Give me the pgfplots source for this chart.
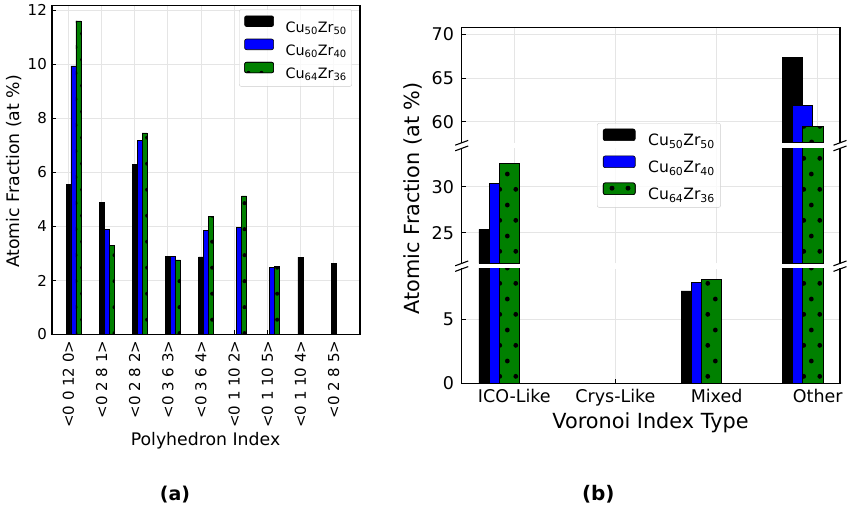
\documentclass[border=0pt]{standalone}
\usepackage{fontspec}
\setmainfont{DejaVu Sans}
\usepackage{pgfplots}
\pgfplotsset{compat=1.18}
\usetikzlibrary{patterns.meta}

\pgfdeclarepattern{
  name=dotsA, type=uncolored,
  bottom left={\pgfpoint{0pt}{0pt}},
  top right={\pgfpoint{13.3pt}{26pt}},
  tile size={\pgfpoint{13.3pt}{26pt}},
  code={
    \pgfpathcircle{\pgfpoint{3.3pt}{6.5pt}}{2.1pt}
    \pgfpathcircle{\pgfpoint{9.95pt}{19.5pt}}{2.1pt}
    \pgfusepath{fill}
  }
}
\pgfdeclarepattern{
  name=dotsB, type=uncolored,
  bottom left={\pgfpoint{0pt}{0pt}},
  top right={\pgfpoint{16pt}{31.2pt}},
  tile size={\pgfpoint{16pt}{31.2pt}},
  code={
    \pgfpathcircle{\pgfpoint{4pt}{7.8pt}}{2.5pt}
    \pgfpathcircle{\pgfpoint{12pt}{23.4pt}}{2.5pt}
    \pgfusepath{fill}
  }
}

\definecolor{mplgreen}{HTML}{008000}
\definecolor{mplblue}{HTML}{0000FF}

\pgfplotsset{
  common/.style={
    scale only axis,
    anchor=south west,
    tick align=inside, tick pos=left, major tick length=4pt,
    tick style={black, line width=0.8pt},
    xmajorgrids, ymajorgrids,
    major grid style={black!10, line width=0.8pt},
    clip=true,
  },
  barA/.style={ybar, bar width=0.15, draw=black, line width=0.6pt},
  barB/.style={ybar, bar width=0.2, draw=black, line width=0.6pt},
}

\begin{document}
\begin{tikzpicture}[x=1pt,y=1pt]
\path[use as bounding box] (0,0) rectangle (852,508);

% ---------------- Panel (a) ----------------
\begin{axis}[
  common,
  at={(52pt,173.5pt)}, width=308pt, height=328.8pt,
  xmin=-0.4975, xmax=8.7975, ymin=0, ymax=12.17,
  xtick={0,1,2,3,4,5,6,7,8},
  xticklabels={{<0 0 12 0>},{<0 2 8 1>},{<0 2 8 2>},{<0 3 6 3>},{<0 3 6 4>},{<0 1 10 2>},{<0 1 10 5>},{<0 1 10 4>},{<0 2 8 5>}},
  ytick={0,2,4,6,8,10,12},
  yticklabels={0,2,4,6,8,10,12},
  axis line style={black, line width=1.3pt},
  tick label style={font=\fontsize{15}{15}\selectfont, inner sep=0pt},
  xticklabel style={rotate=90, anchor=east},
  xticklabel shift=6pt, yticklabel shift=5pt,
  legend cell align=left,
  legend image code/.code={\draw[#1, fill opacity=1, draw opacity=1] (0pt,-0.5pt) rectangle (29pt,10.2pt);},
  legend style={at={(0.974,0.989)}, anchor=north east,
    draw=black!20, rounded corners=2pt, fill=white, fill opacity=0.8, text opacity=1,
    inner xsep=5pt, inner ysep=6pt, row sep=4.7pt, column sep=11.7pt,
    font=\fontsize{14.3}{14.3}\selectfont,
    nodes={inner sep=0pt, text height=14pt, text depth=2pt}},
]
\addplot[barA, bar shift=0, fill=black] coordinates {
  (0,5.56) (1,4.88) (2,6.29) (3,2.88) (4,2.87) (7,2.86) (8,2.64)};
\addlegendentry{Cu\textsubscript{50}Zr\textsubscript{50}}
\addplot[barA, bar shift=0.15, fill=mplblue] coordinates {
  (0,9.94) (1,3.90) (2,7.19) (3,2.89) (4,3.84) (5,3.96) (6,2.49)};
\addlegendentry{Cu\textsubscript{60}Zr\textsubscript{40}}
\addplot[barA, bar shift=0.3, fill=mplgreen, postaction={pattern={dotsA}, pattern color=black}] coordinates {
  (0,11.61) (1,3.31) (2,7.46) (3,2.76) (4,4.38) (5,5.13) (6,2.53)};
\addlegendentry{Cu\textsubscript{64}Zr\textsubscript{36}}
\end{axis}

% ---------------- Panel (b): top segment (only bars that reach it) ----------------
\begin{axis}[
  common,
  at={(461.7pt,365.2pt)}, width=378.3pt, height=115.1pt,
  xmin=-0.52, xmax=3.22, ymin=57.6, ymax=70.76,
  xtick={0,1,2,3}, xticklabels={}, xmajorticks=false,
  ytick={60,65,70}, yticklabels={60,65,70},
  axis line style={draw=none},
  tick label style={font=\fontsize{17.5}{17.5}\selectfont, inner sep=0pt},
  yticklabel shift=7.5pt,
]
\addplot[barB, bar shift=-0.25, fill=black] coordinates {(3,67.43)};
\addplot[barB, bar shift=-0.15, fill=mplblue] coordinates {(3,61.83)};
\addplot[barB, bar shift=-0.05, fill=mplgreen, postaction={pattern={dotsB}, pattern color=black}] coordinates {(3,59.43)};
\end{axis}

% ---------------- Panel (b): middle segment ----------------
\begin{axis}[
  common,
  at={(461.7pt,244.6pt)}, width=378.3pt, height=115pt,
  xmin=-0.52, xmax=3.22, ymin=21.67, ymax=34.17,
  xtick={0,1,2,3}, xticklabels={}, xmajorticks=false,
  ytick={25,30}, yticklabels={25,30},
  axis line style={draw=none},
  tick label style={font=\fontsize{17.5}{17.5}\selectfont, inner sep=0pt},
  yticklabel shift=7.5pt,
  legend cell align=left,
  legend image code/.code={\draw[#1, fill opacity=1, draw opacity=1] (0pt,-0.3pt) rectangle (32pt,11.4pt);},
  legend style={at={(0.3577,1.22)}, anchor=north west,
    draw=black!20, rounded corners=2pt, fill=white, fill opacity=0.8, text opacity=1,
    inner xsep=5.7pt, inner ysep=5.4pt, row sep=7.5pt, column sep=12.7pt,
    font=\fontsize{15.6}{15.6}\selectfont,
    nodes={inner sep=0pt, text height=13pt, text depth=2.5pt}},
]
\addplot[barB, bar shift=-0.25, fill=black] coordinates {(0,25.37) (3,67.43)};
\addlegendentry{Cu\textsubscript{50}Zr\textsubscript{50}}
\addplot[barB, bar shift=-0.15, fill=mplblue] coordinates {(0,30.37) (3,61.83)};
\addlegendentry{Cu\textsubscript{60}Zr\textsubscript{40}}
\addplot[barB, bar shift=-0.05, fill=mplgreen, postaction={pattern={dotsB}, pattern color=black}] coordinates {(0,32.54) (3,59.43)};
\addlegendentry{Cu\textsubscript{64}Zr\textsubscript{36}}
\end{axis}

% ---------------- Panel (b): bottom segment ----------------
\begin{axis}[
  common,
  at={(461.7pt,124.5pt)}, width=378.3pt, height=114.5pt,
  xmin=-0.52, xmax=3.22, ymin=0, ymax=8.95,
  xtick={0,1,2,3}, xticklabels={ICO-Like,Crys-Like,Mixed,Other},
  ytick={0,5}, yticklabels={0,5},
  axis line style={draw=none},
  tick label style={font=\fontsize{17.5}{17.5}\selectfont, inner sep=0pt},
  yticklabel shift=7.5pt, xticklabel shift=5.5pt,
]
\addplot[barB, bar shift=-0.25, fill=black] coordinates {(0,25.37) (1,0) (2,7.24) (3,67.43)};
\addplot[barB, bar shift=-0.15, fill=mplblue] coordinates {(0,30.37) (1,0) (2,7.89) (3,61.83)};
\addplot[barB, bar shift=-0.05, fill=mplgreen, postaction={pattern={dotsB}, pattern color=black}] coordinates {(0,32.54) (1,0) (2,8.12) (3,59.43)};
\end{axis}

% frames of the broken axis
\begin{scope}[line width=1.3pt, line cap=rect]
\draw (461.7,124.5) -- (840,124.5);
\draw (461.7,480.3) -- (840,480.3);
\foreach \x in {461.7,840}{
  \draw (\x,124.5) -- (\x,239);
  \draw (\x,244.6) -- (\x,359.6);
  \draw (\x,365.2) -- (\x,480.3);
}
\end{scope}
\begin{scope}[line width=1.1pt]
\foreach \x in {461.7,840}{
  \foreach \y in {239,244.6,359.6,365.2}{
    \draw (\x-6.5,\y-2.4) -- (\x+6.5,\y+2.4);
  }
}
\end{scope}

% labels
\node[rotate=90, anchor=base, font=\fontsize{17.3}{17.3}\selectfont] at (20,336.5) {Atomic Fraction (at \%)};
\node[anchor=base, font=\fontsize{17.3}{17.3}\selectfont] at (205.5,62.4) {Polyhedron Index};
\node[rotate=90, anchor=base, font=\fontsize{20.8}{20.8}\selectfont] at (419,309.7) {Atomic Fraction (at \%)};
\node[anchor=base, font=\fontsize{20.8}{20.8}\selectfont] at (650.5,79.5) {Voronoi Index Type};
\node[anchor=base, font=\bfseries\fontsize{19}{19}\selectfont] at (175,7.1) {(a)};
\node[anchor=base, font=\bfseries\fontsize{20}{20}\selectfont] at (598.3,7.6) {(b)};
\end{tikzpicture}
\end{document}
